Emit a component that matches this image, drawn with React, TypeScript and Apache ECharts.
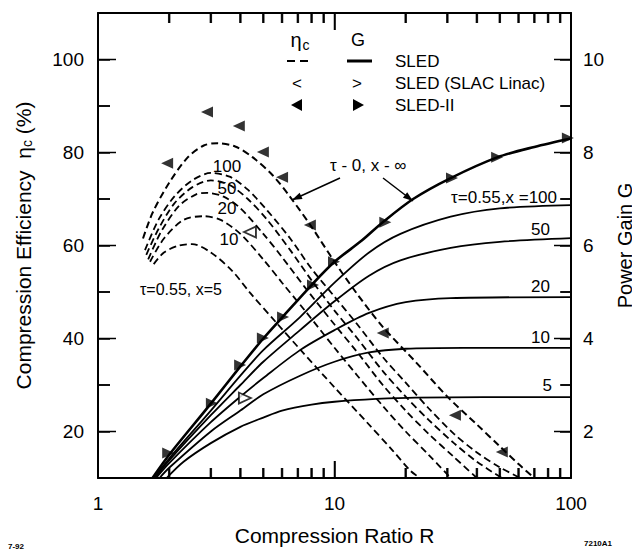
import React, { useEffect, useRef } from 'react';
import * as echarts from 'echarts';

const FONT = '"Liberation Sans", Arial, Helvetica, sans-serif';

// ---- axis ticks / labels ----
const xMajorTicks = [1, 10, 100];
const xMinorTicks = [2, 3, 4, 5, 6, 7, 8, 9, 20, 30, 40, 50, 60, 70, 80, 90];
const etaMajorTicks = [20, 40, 60, 80, 100];
const etaMinorTicks = [30, 50, 70, 90];
const etaLabelValues = [20, 40, 60, 80, 100];
const gainMajorTicks = [2, 4, 6, 8, 10];
const gainMinorTicks = [3, 5, 7, 9];
const gainLabelValues = [2, 4, 6, 8, 10];

// ---- compression efficiency (left axis, %) : [R, eta] ----
const etaTau0 = [[1.55, 61.5], [1.7, 67], [2, 73.5], [2.4, 79], [2.8, 81.5], [3.2, 82], [3.8, 81.3], [4.5, 79], [5.5, 75], [6.5, 70.4], [8, 64], [10, 56.5], [12.5, 49.5], [16, 42.5], [22, 35], [30, 27.5], [40, 21.5], [50, 16.8], [60, 13], [70, 10]];
const etaX100 = [[1.58, 59], [1.8, 65.5], [2.1, 70.5], [2.5, 74], [3.0, 75.6], [3.6, 74.8], [4.3, 72], [5.2, 67.5], [6.5, 61.5], [8, 55], [10, 49], [12.5, 43], [16, 36], [20, 30.5], [25, 25], [32, 19.5], [40, 15.5], [50, 12.3], [61, 10]];
const etaX50 = [[1.6, 58], [1.8, 63.5], [2.1, 69], [2.5, 72.5], [3.0, 74], [3.6, 73], [4.3, 70], [5.2, 65.5], [6.5, 59], [8, 52.5], [10, 46], [12.5, 40], [16, 33], [20, 27.5], [25, 22.5], [32, 17.5], [40, 13.5], [51, 10]];
const etaX20 = [[1.63, 57], [1.85, 63], [2.2, 68.5], [2.6, 71], [2.9, 71.3], [3.4, 70.5], [4, 68], [5, 62.5], [6, 57.5], [7.5, 51], [10, 43], [12.5, 37], [16, 30], [20, 24.5], [25, 19.5], [32, 14.5], [40, 10]];
const etaX10 = [[1.66, 56.5], [1.9, 61.5], [2.3, 65.5], [2.8, 66.3], [3.3, 65.5], [4, 62.5], [5, 57], [6, 52], [7.5, 46], [10, 38], [12.5, 32], [16, 25.5], [20, 20], [25, 15], [31, 10]];
const etaX5 = [[1.72, 56], [1.9, 58.5], [2.2, 60], [2.5, 60.3], [3, 58.5], [3.7, 54.5], [4.4, 49.8], [5.7, 43.3], [7.2, 37.5], [10, 29.5], [13.7, 22], [17.7, 15.8], [21, 11.5], [23, 10]];

// ---- power gain (right axis) : [R, G] ----
const gainTau0 = [[1.7, 1], [2, 1.5], [3, 2.6], [4, 3.4], [5, 4.0], [6, 4.45], [8, 5.15], [10, 5.65], [13, 6.1], [16, 6.5], [21.5, 7.0], [31, 7.45], [49, 7.9], [70, 8.12], [100, 8.3]];
const gainX100 = [[1.72, 1], [2, 1.42], [3, 2.45], [4, 3.2], [5, 3.75], [7.15, 4.46], [10, 5.2], [14, 5.85], [19, 6.25], [31, 6.62], [50, 6.8], [100, 6.87]];
const gainX50 = [[1.74, 1], [2, 1.38], [3, 2.35], [4, 3.0], [5, 3.5], [7.15, 4.18], [10, 4.8], [14, 5.35], [19, 5.68], [31, 5.95], [50, 6.08], [100, 6.16]];
const gainX20 = [[1.76, 1], [2, 1.32], [3, 2.2], [4, 2.75], [5, 3.15], [7.15, 3.75], [10, 4.18], [14, 4.55], [20, 4.78], [31, 4.87], [100, 4.89]];
const gainX10 = [[1.82, 1], [2, 1.22], [3, 2.0], [4, 2.45], [5, 2.8], [7.15, 3.2], [10, 3.5], [14, 3.7], [20, 3.78], [35, 3.8], [100, 3.8]];
const gainX5 = [[1.95, 1], [2.3, 1.35], [3, 1.75], [4, 2.1], [5, 2.3], [6, 2.45], [8, 2.58], [10, 2.64], [15, 2.7], [22, 2.73], [100, 2.74]];

// ---- measured points ----
const sled2Eta = [[1.96, 77.7], [2.89, 88.7], [3.94, 85.7], [4.98, 80.1], [6.0, 74.7], [7.87, 64.4], [16, 41.2], [32.3, 23.5], [51, 15.6]];
const sled2Gain = [[1.98, 1.54], [3.03, 2.61], [3.99, 3.43], [4.98, 4.01], [6.06, 4.46], [8.11, 5.15], [9.95, 5.65], [16.4, 6.5], [31.4, 7.45], [48.7, 7.9], [97, 8.31]];
const slacEta = [[4.39, 62.9]];
const slacGain = [[4.18, 2.72]];

function arrowHead(sx: number, sy: number, tx: number, ty: number, len = 10, half = 3.5) {
  const dx = tx - sx, dy = ty - sy;
  const L = Math.hypot(dx, dy);
  const ux = dx / L, uy = dy / L;
  const bx = tx - ux * len, by = ty - uy * len;
  return [[tx, ty], [bx - uy * half, by + ux * half], [bx + uy * half, by - ux * half]];
}

function txt(text: string, x: number, y: number, size: number, align = 'left', extra: any = {}) {
  return {
    type: 'text', x, y, silent: true, z: 10,
    style: { text, fontSize: size, fontFamily: FONT, fill: '#000', align, verticalAlign: 'middle', ...extra },
  };
}

function seg(x1: number, y1: number, x2: number, y2: number) {
  return { type: 'line', silent: true, z: 9, shape: { x1, y1, x2, y2 }, style: { stroke: '#000', lineWidth: 1.5 } };
}

// minor log ticks as thin rect symbols, placed through the axes' scales
function tickSeries(name: string, data: number[][], size: number[], offset: number[]) {
  return {
    type: 'scatter', name, data, yAxisIndex: 0, silent: true, z: 5,
    symbol: 'rect', symbolSize: size, symbolOffset: offset, itemStyle: { color: '#000' },
  };
}

const TICK = (length: number) => ({ show: true, inside: true, length, lineStyle: { color: '#000', width: 1.5 } });

export default function App() {
  const ref = useRef<HTMLDivElement>(null);
  useEffect(() => {
    if (!ref.current) return;
    const chart = echarts.init(ref.current, undefined, { renderer: 'svg' });

    const line = (name: string, data: number[][], yAxisIndex: number, dashed: boolean, width: number) => ({
      type: 'line', name, data, xAxisIndex: 0, yAxisIndex, showSymbol: false, symbol: 'none',
      smooth: 0.3, silent: true, z: 3,
      lineStyle: { color: '#000', width, type: dashed ? [7, 4] : 'solid' },
    });

    const a1s = [340, 178], a1t = [292, 200];
    const a2s = [383, 178], a2t = [413, 201];

    const option: any = {
      animation: false,
      backgroundColor: '#fff',
      grid: { left: 98, right: 61, top: 13, bottom: 72, containLabel: false, outerBoundsMode: 'none' },
      xAxis: [
        {
          type: 'log', logBase: 10, min: 1, max: 100, position: 'bottom',
          axisLine: { show: true, lineStyle: { color: '#000', width: 2 } },
          axisTick: TICK(17),
          splitLine: { show: false },
          axisLabel: { fontSize: 19, color: '#000', fontFamily: FONT, margin: 16 },
          name: 'Compression Ratio R', nameLocation: 'middle', nameGap: 47,
          nameTextStyle: { fontSize: 21, color: '#000', fontFamily: FONT },
        },
        {
          type: 'log', logBase: 10, min: 1, max: 100, position: 'top',
          axisLine: { show: true, lineStyle: { color: '#000', width: 2 } },
          axisTick: TICK(17), axisLabel: { show: false }, splitLine: { show: false },
        },
      ],
      yAxis: [
        {
          type: 'value', min: 10, max: 110, interval: 10, position: 'left',
          axisLine: { show: true, lineStyle: { color: '#000', width: 2 } },
          axisTick: TICK(12), splitLine: { show: false },
          axisLabel: {
            fontSize: 19, color: '#000', fontFamily: FONT, margin: 14,
            formatter: (v: number) => (etaLabelValues.includes(v) ? String(v) : ''),
          },
          name: 'Compression Efficiency  η{sub|c} (%)', nameLocation: 'middle', nameRotate: 90, nameGap: 64,
          nameTextStyle: {
            fontSize: 21, color: '#000', fontFamily: FONT,
            rich: { sub: { fontSize: 14, color: '#000', fontFamily: FONT, padding: [8, 0, 0, 0] } },
          },
        },
        {
          type: 'value', min: 1, max: 11, interval: 1, position: 'right',
          axisLine: { show: true, lineStyle: { color: '#000', width: 2 } },
          axisTick: TICK(11), splitLine: { show: false },
          axisLabel: {
            fontSize: 19, color: '#000', fontFamily: FONT, margin: 12,
            formatter: (v: number) => (gainLabelValues.includes(v) ? String(v) : ''),
          },
          name: 'Power Gain G', nameLocation: 'middle', nameRotate: 90, nameGap: 35,
          nameTextStyle: { fontSize: 20, color: '#000', fontFamily: FONT },
        },
      ],
      series: [
        line('eta tau=0', etaTau0, 0, true, 2),
        line('eta x=100', etaX100, 0, true, 1.8),
        line('eta x=50', etaX50, 0, true, 1.8),
        line('eta x=20', etaX20, 0, true, 1.8),
        line('eta x=10', etaX10, 0, true, 1.8),
        line('eta x=5', etaX5, 0, true, 1.8),
        line('G tau=0', gainTau0, 1, false, 2.6),
        line('G x=100', gainX100, 1, false, 1.8),
        line('G x=50', gainX50, 1, false, 1.8),
        line('G x=20', gainX20, 1, false, 1.8),
        line('G x=10', gainX10, 1, false, 1.8),
        line('G x=5', gainX5, 1, false, 1.8),
        {
          type: 'scatter', name: 'SLED-II eta', data: sled2Eta, yAxisIndex: 0, silent: true, z: 5,
          symbol: 'triangle', symbolSize: [11, 12], symbolRotate: 90, itemStyle: { color: '#000' },
        },
        {
          type: 'scatter', name: 'SLED-II G', data: sled2Gain, yAxisIndex: 1, silent: true, z: 5,
          symbol: 'triangle', symbolSize: [11, 12], symbolRotate: -90, itemStyle: { color: '#000' },
        },
        {
          type: 'scatter', name: 'SLAC eta', data: slacEta, yAxisIndex: 0, silent: true, z: 5,
          symbol: 'triangle', symbolSize: [11, 12], symbolRotate: 90,
          itemStyle: { color: '#fff', borderColor: '#000', borderWidth: 1.8 },
        },
        {
          type: 'scatter', name: 'SLAC G', data: slacGain, yAxisIndex: 1, silent: true, z: 5,
          symbol: 'triangle', symbolSize: [11, 12], symbolRotate: -90,
          itemStyle: { color: '#fff', borderColor: '#000', borderWidth: 1.8 },
        },
        tickSeries('x minor bottom', xMinorTicks.map((v) => [v, 10]), [2.5, 10], [0, -5]),
        tickSeries('x minor top', xMinorTicks.map((v) => [v, 110]), [2.5, 10], [0, 5]),
      ],
    };

    chart.setOption(option);

    // extra (longer) tick marks, positioned through the axes' own scales
    const pt = (v: number[], yi: number): number[] | null => {
      const r: any = chart.convertToPixel({ xAxisIndex: 0, yAxisIndex: yi } as any, v);
      return Array.isArray(r) && isFinite(r[0]) && isFinite(r[1]) ? r : null;
    };
    const ticks: any[] = [];
    const push = (p: number[] | null, dx: number, dy: number) => { if (p) ticks.push(seg(p[0], p[1], p[0] + dx, p[1] + dy)); };
    xMajorTicks.forEach((v) => { push(pt([v, 10], 0), 0, -17); push(pt([v, 110], 0), 0, 17); });
    xMinorTicks.forEach((v) => { push(pt([v, 10], 0), 0, -10); push(pt([v, 110], 0), 0, 10); });
    etaMajorTicks.forEach((v) => push(pt([1, v], 0), 18, 0));
    etaMinorTicks.forEach((v) => push(pt([1, v], 0), 12, 0));
    gainMajorTicks.forEach((v) => push(pt([100, v], 1), -17, 0));
    gainMinorTicks.forEach((v) => push(pt([100, v], 1), -10, 0));

    const annotations: any[] = [
      // legend header
      txt('η', 296, 40, 20, 'center'),
      txt('c', 306, 45, 14, 'center'),
      txt('G', 358, 40, 18, 'center'),
      // legend row 1
      { type: 'line', silent: true, shape: { x1: 287, y1: 61, x2: 309, y2: 61 }, style: { stroke: '#000', lineWidth: 2, lineDash: [8, 5] } },
      { type: 'line', silent: true, shape: { x1: 347, y1: 61, x2: 372, y2: 61 }, style: { stroke: '#000', lineWidth: 3 } },
      txt('SLED', 395, 61, 17),
      // legend row 2
      txt('<', 297, 83, 17, 'center'),
      txt('>', 357, 83, 17, 'center'),
      txt('SLED (SLAC Linac)', 395, 83, 17),
      // legend row 3
      { type: 'polygon', silent: true, shape: { points: [[291, 105], [302, 99], [302, 111]] }, style: { fill: '#000' } },
      { type: 'polygon', silent: true, shape: { points: [[364, 105], [353, 99], [353, 111]] }, style: { fill: '#000' } },
      txt('SLED-II', 395, 105, 17),
      // curve labels (efficiency)
      txt('100', 227, 166, 17, 'center'),
      txt('50', 227, 188, 17, 'center'),
      txt('20', 227, 208, 17, 'center'),
      txt('10', 229, 239, 17, 'center'),
      txt('τ=0.55, x=5', 140, 289, 16),
      txt('τ - 0, x - ∞', 330, 165, 17),
      // curve labels (gain)
      txt('τ=0.55,x =100', 557, 197, 17, 'right'),
      txt('50', 550, 229, 17, 'right'),
      txt('20', 550, 286, 17, 'right'),
      txt('10', 550, 337, 17, 'right'),
      txt('5', 552, 385, 17, 'right'),
      // arrows
      { type: 'line', silent: true, shape: { x1: a1s[0], y1: a1s[1], x2: a1t[0], y2: a1t[1] }, style: { stroke: '#000', lineWidth: 1.5 } },
      { type: 'polygon', silent: true, shape: { points: arrowHead(a1s[0], a1s[1], a1t[0], a1t[1]) }, style: { fill: '#000' } },
      { type: 'line', silent: true, shape: { x1: a2s[0], y1: a2s[1], x2: a2t[0], y2: a2t[1] }, style: { stroke: '#000', lineWidth: 1.5 } },
      { type: 'polygon', silent: true, shape: { points: arrowHead(a2s[0], a2s[1], a2t[0], a2t[1]) }, style: { fill: '#000' } },
      // figure ids
      txt('7-92', 8, 546, 8, 'left', { fontWeight: 'bold' }),
      txt('7210A1', 584, 543, 8, 'left', { fontWeight: 'bold' }),
    ];

    chart.setOption({ graphic: { elements: [...annotations, ...ticks] } });
    return () => chart.dispose();
  }, []);

  return (
    <div
      ref={ref}
      style={{ position: 'absolute', left: 0, top: 0, width: 632, height: 550, background: '#fff' }}
    />
  );
}
